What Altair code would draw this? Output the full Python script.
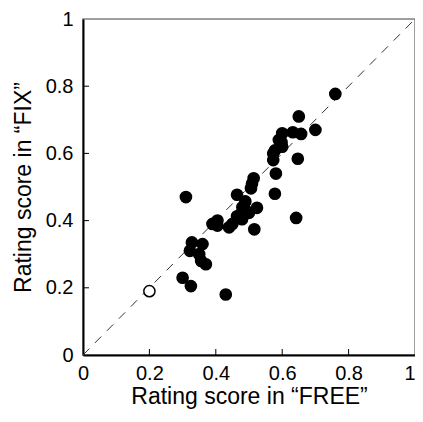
import altair as alt
import pandas as pd

free_scores = [0.20, 0.30, 0.325, 0.43, 0.31, 0.322, 0.328, 0.36, 0.35, 0.356, 0.37,
               0.39, 0.405, 0.405, 0.44, 0.45, 0.464, 0.474, 0.479, 0.464, 0.489,
               0.49, 0.50, 0.524, 0.516, 0.506, 0.514, 0.509, 0.48, 0.578, 0.581,
               0.573, 0.573, 0.578, 0.60, 0.598, 0.60, 0.632, 0.657, 0.647, 0.642,
               0.65, 0.70, 0.76, 0.59]
fix_scores = [0.19, 0.23, 0.205, 0.18, 0.47, 0.31, 0.335, 0.33, 0.30, 0.28, 0.27,
              0.39, 0.40, 0.385, 0.38, 0.39, 0.413, 0.418, 0.404, 0.477, 0.457,
              0.43, 0.423, 0.438, 0.374, 0.496, 0.526, 0.51, 0.44, 0.48, 0.54,
              0.58, 0.60, 0.609, 0.62, 0.633, 0.66, 0.663, 0.658, 0.584, 0.408,
              0.71, 0.67, 0.777, 0.64]
marker_kind = ["open"] + ["filled"] * (len(free_scores) - 1)

diag_x = [0, 1]
diag_y = [0, 1]
axis_ticks = [0, 0.2, 0.4, 0.6, 0.8, 1]
inner_ticks = [0.2, 0.4, 0.6, 0.8]

W, H = 332, 336

df = pd.DataFrame({"free": free_scores, "fix": fix_scores, "kind": marker_kind})
df_diag = pd.DataFrame({"free": diag_x, "fix": diag_y})
df_ticks = pd.DataFrame({"v": inner_ticks})

xs = alt.Scale(domain=[0, 1], nice=False)
ys = alt.Scale(domain=[0, 1], nice=False)
x_axis = alt.Axis(values=axis_ticks, format="~g", title="Rating score in “FREE”", ticks=False,
                  labelPadding=8, titlePadding=2, labelFlush=False, grid=False,
                  labelAlign={"condition": {"test": "datum.value === 1", "value": "right"},
                              "value": "center"})
y_axis = alt.Axis(values=axis_ticks, format="~g", title="Rating score in “FIX”", ticks=False,
                  labelPadding=10, titlePadding=10, labelFlush=False, grid=False)

pts = alt.Chart(df).mark_circle(size=125, opacity=1, stroke="black", strokeWidth=1.5).encode(
    x=alt.X("free:Q", scale=xs, axis=x_axis),
    y=alt.Y("fix:Q", scale=ys, axis=y_axis),
    fill=alt.Fill("kind:N", scale=alt.Scale(domain=["filled", "open"], range=["black", "white"]),
                  legend=None),
)

diag = alt.Chart(df_diag).mark_line(color="#333333", strokeWidth=1, strokeDash=[9, 8]).encode(
    x=alt.X("free:Q", scale=xs, axis=x_axis),
    y=alt.Y("fix:Q", scale=ys, axis=y_axis),
)

xt = alt.Chart(df_ticks).mark_rule(color="black", strokeWidth=1).encode(
    x=alt.X("v:Q", scale=xs, axis=x_axis),
    y=alt.value(H),
    y2=alt.value(H - 6),
)
yt = alt.Chart(df_ticks).mark_rule(color="black", strokeWidth=1).encode(
    y=alt.Y("v:Q", scale=ys, axis=y_axis),
    x=alt.value(0),
    x2=alt.value(6),
)

chart = alt.layer(diag, pts, xt, yt).properties(
    width=W, height=H,
    autosize=alt.AutoSizeParams(type="none"),
    padding={"left": 75, "top": 11, "right": 0, "bottom": 59},
).configure_view(
    stroke="#808080", strokeWidth=1.5
).configure_axis(
    domainColor="black", domainWidth=2,
    labelFont="Liberation Sans", labelFontSize=20, labelColor="black",
    titleFont="Liberation Sans", titleFontSize=23, titleFontWeight="normal", titleColor="black",
)

chart.save("out.html", embed_options={"renderer": "svg", "actions": False})
